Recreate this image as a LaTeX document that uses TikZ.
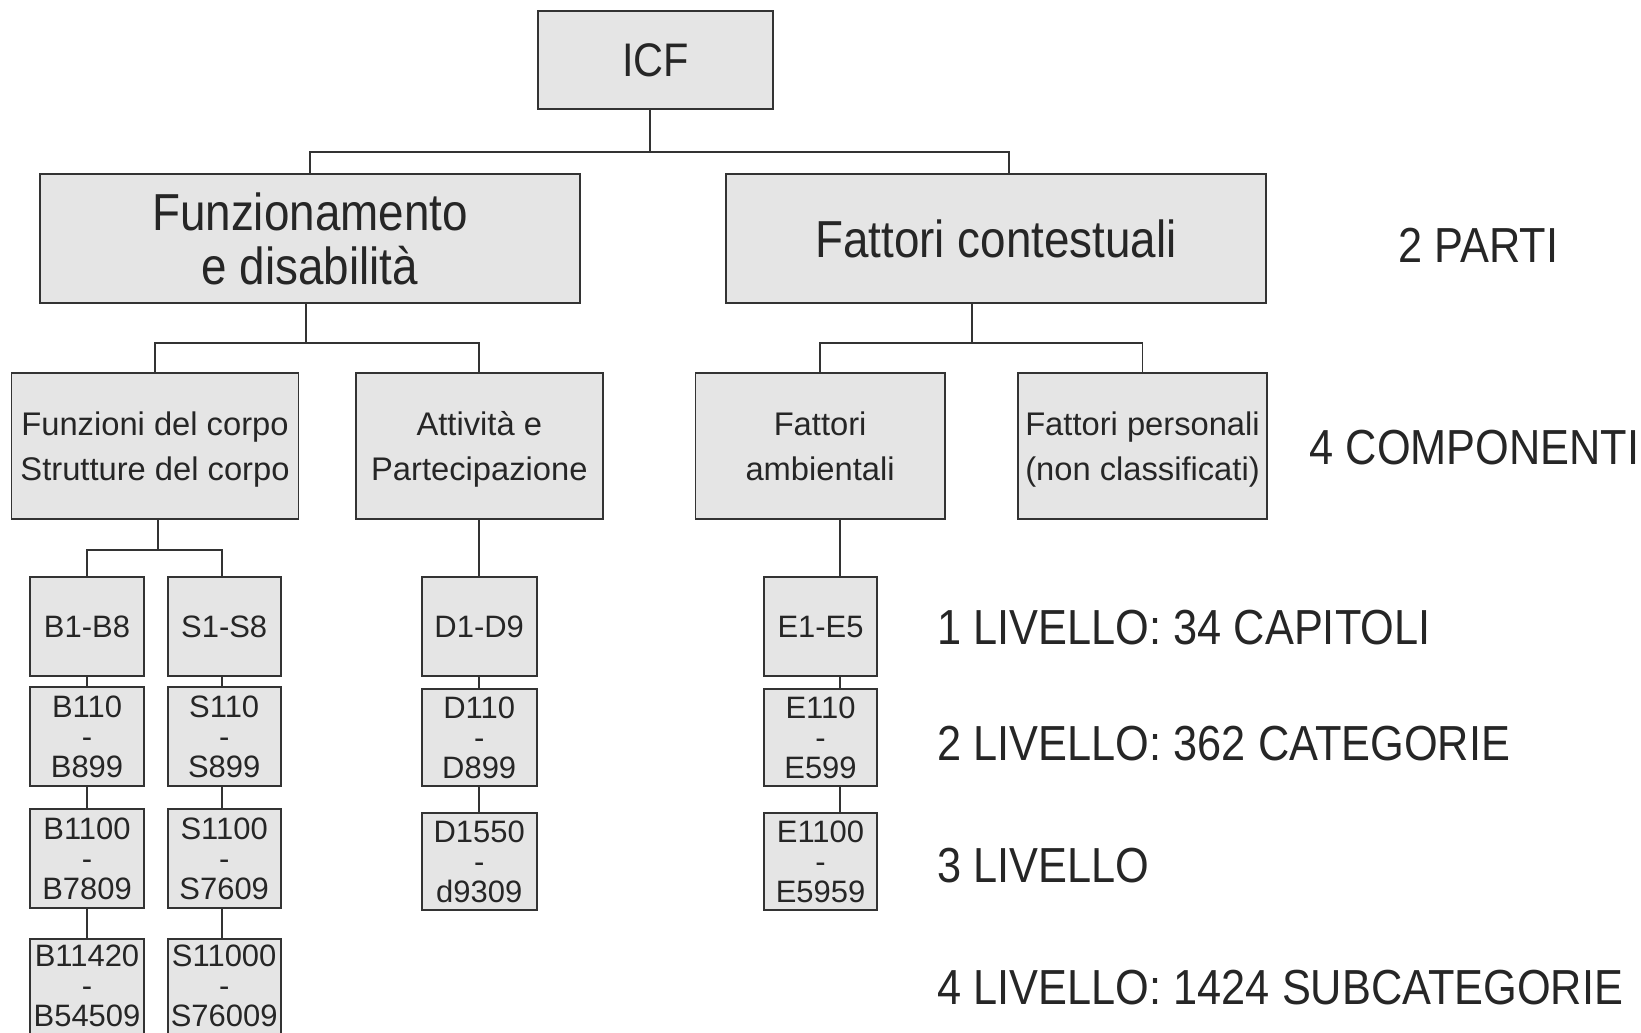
\documentclass[tikz,border=0pt]{standalone}
\usepackage{fontspec}
\setmainfont{Liberation Sans}
\newfontfamily\condf[FakeStretch=0.88]{Liberation Sans}
\begin{document}
\begin{tikzpicture}[x=0.01cm,y=-0.01cm,
  box/.style={draw=black!80, fill=gray!20, line width=0.5pt, inner sep=0pt, align=center, text=black!85},
  big/.style={box, font=\condf\fontsize{14.8}{15.4}\selectfont},
  lvtwo/.style={box, minimum height=14.6mm, text depth=0pt, font=\fontsize{9.3}{12.8}\selectfont},
  sm/.style={box, font=\fontsize{8.8}{8.5}\selectfont},
  smtext/.style={inner sep=0pt, align=center, text=black!85, font=\fontsize{8.8}{8.5}\selectfont},
  lab/.style={anchor=west, inner sep=0pt, text=black!85, font=\condf\fontsize{14}{15}\selectfont},
  conn/.style={draw=black!80, line width=0.5pt}]
\useasboundingbox (0,0) rectangle (1641,1033);
\clip (0,0) rectangle (1641,1033);

% top
\node[box, minimum width=23.5mm, minimum height=9.8mm, font=\condf\fontsize{13.4}{15}\selectfont] (icf) at (655.5,60) {ICF};
\node[big, minimum width=54mm, minimum height=12.9mm] (fd) at (310,238.8) {Funzionamento\\e disabilità};
\node[big, minimum width=54mm, minimum height=12.9mm] (fc) at (996,238.8) {Fattori contestuali};

% level 2
\node[lvtwo, minimum width=28.66mm] (fdc) at (155,446.3) {Funzioni del corpo\\Strutture del corpo};
\node[lvtwo, minimum width=24.7mm] (att) at (479.3,446.3) {Attività e\\Partecipazione};
\node[lvtwo, minimum width=24.9mm] (amb) at (820.1,446.3) {Fattori\\ambientali};
\node[lvtwo, minimum width=24.9mm] (per) at (1142.5,446.3) {Fattori personali\\(non classificati)};

% small boxes
\node[sm, minimum width=11.4mm, minimum height=9.9mm] (b1) at (87,626.5) {B1-B8};
\node[sm, minimum width=11.3mm, minimum height=9.9mm] (s1) at (224.2,626.5) {S1-S8};
\node[sm, minimum width=11.5mm, minimum height=9.9mm] (d1) at (479.2,626.5) {D1-D9};
\node[sm, minimum width=11.3mm, minimum height=9.9mm] (e1) at (820.5,626.5) {E1-E5};

\node[sm, minimum width=11.4mm, minimum height=9.9mm] (b2) at (87,736.5) {B110\\-\\B899};
\node[sm, minimum width=11.3mm, minimum height=9.9mm] (s2) at (224.2,736.5) {S110\\-\\S899};
\node[sm, minimum width=11.5mm, minimum height=9.7mm] (d2) at (479.2,737.5) {D110\\-\\D899};
\node[sm, minimum width=11.3mm, minimum height=9.7mm] (e2) at (820.5,737.5) {E110\\-\\E599};

\node[sm, minimum width=11.4mm, minimum height=9.9mm] (b3) at (87,858.5) {B1100\\-\\B7809};
\node[sm, minimum width=11.3mm, minimum height=9.9mm] (s3) at (224.2,858.5) {S1100\\-\\S7609};
\node[sm, minimum width=11.5mm, minimum height=9.7mm] (d3) at (479.2,861.5) {D1550\\-\\d9309};
\node[sm, minimum width=11.3mm, minimum height=9.7mm] (e3) at (820.5,861.5) {E1100\\-\\E5959};

\node[sm, minimum width=11.4mm, minimum height=11mm] (b4) at (87,994) {};
\node[sm, minimum width=11.3mm, minimum height=11mm] (s4) at (224.2,994) {};
\node[smtext] (b4t) at (87,986) {B11420\\-\\B54509};
\node[smtext] (s4t) at (224.2,986) {S11000\\-\\S76009};

% labels
\node[lab] (lparti) at (1398,245.5) {2 PARTI};
\node[lab] (lcomp) at (1309,448) {4 COMPONENTI};
\node[lab] (lv1) at (937,627.5) {1 LIVELLO: 34 CAPITOLI};
\node[lab] (lv2) at (937,744) {2 LIVELLO: 362 CATEGORIE};
\node[lab] (lv3) at (937,865.5) {3 LIVELLO};
\node[lab] (lv4) at (937,988) {4 LIVELLO: 1424 SUBCATEGORIE};

% connectors
\draw[conn] ([xshift=-0.55mm]icf.south) -- ++(0,42) coordinate (j0);
\draw[conn] (fd.north) |- (j0) -| ([xshift=1.27mm]fc.north);

\draw[conn] ([xshift=-0.4mm]fd.south) -- ++(0,39) coordinate (j1);
\draw[conn] (fdc.north) |- (j1) -| (att.north);

\draw[conn] ([xshift=-2.37mm]fc.south) -- ++(0,39) coordinate (j2);
\draw[conn] (amb.north) |- (j2) -| (per.north);

\draw[conn] ([xshift=0.3mm]fdc.south) -- ++(0,30) coordinate (j3);
\draw[conn] (b1.north) |- (j3) -| ([xshift=-0.25mm]s1.north);
\draw[conn] (att.south) -- (att.south |- d1.north);
\draw[conn] ([xshift=1.99mm]amb.south) -- ([xshift=1.99mm]amb.south |- e1.north);

\draw[conn] (b1.south) -- (b2.north);
\draw[conn] (b2.south) -- (b3.north);
\draw[conn] (b3.south) -- (b4.north);
\draw[conn] ([xshift=-0.25mm]s1.south) -- ([xshift=-0.25mm]s2.north);
\draw[conn] ([xshift=-0.25mm]s2.south) -- ([xshift=-0.25mm]s3.north);
\draw[conn] ([xshift=-0.25mm]s3.south) -- ([xshift=-0.25mm]s4.north);
\draw[conn] (d1.south) -- (d2.north);
\draw[conn] (d2.south) -- (d3.north);
\draw[conn] ([xshift=1.95mm]e1.south) -- ([xshift=1.95mm]e2.north);
\draw[conn] ([xshift=1.95mm]e2.south) -- ([xshift=1.95mm]e3.north);
\end{tikzpicture}
\end{document}
